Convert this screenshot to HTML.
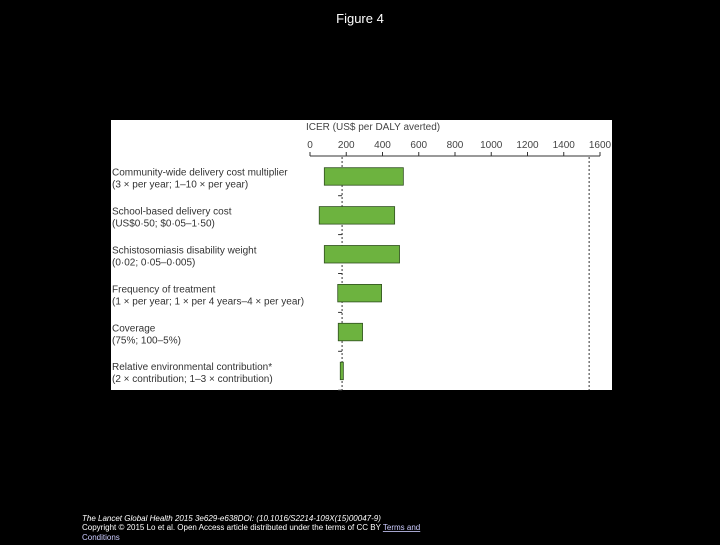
<!DOCTYPE html>
<html><head><meta charset="utf-8"><style>
body{margin:0;background:#000;width:720px;height:540px;overflow:hidden;font-family:"Liberation Sans",sans-serif;}
</style></head><body>
<svg width="720" height="540" xmlns="http://www.w3.org/2000/svg">
<text x="360" y="23" fill="#fff" font-size="13" text-anchor="middle">Figure 4</text>
<rect x="111" y="120" width="501" height="270" fill="#fff"/>
<g id="chart"></g>
<text x="82" y="521" fill="#fff" font-size="8" font-style="italic">The Lancet Global Health 2015 3e629-e638DOI: (10.1016/S2214-109X(15)00047-9)</text>
<text x="82" y="530" fill="#fff" font-size="8">Copyright © 2015 Lo et al. Open Access article distributed under the terms of CC BY <tspan fill="#ccf" text-decoration="underline">Terms and</tspan></text>
<text x="82" y="540" fill="#ccf" font-size="8" text-decoration="underline">Conditions</text>
</svg>
<script>
const categories=["Community-wide delivery cost multiplier","School-based delivery cost","Schistosomiasis disability weight","Frequency of treatment","Coverage","Relative environmental contribution*"];
const subLabels=["(3 × per year; 1–10 × per year)","(US$0·50; $0·05–1·50)","(0·02; 0·05–0·005)","(1 × per year; 1 × per 4 years–4 × per year)","(75%; 100–5%)","(2 × contribution; 1–3 × contribution)"];
const lowValues=[79,51,79,153,156,167];
const highValues=[515,467,494,395,290,184];
const ticks=[0,200,400,600,800,1000,1200,1400,1600];
const baseValue=177;
const thresholdValue=1540;
const NS="http://www.w3.org/2000/svg";
const g=document.getElementById('chart');
const X=v=>310+v*290/1600;
const Y=i=>167.7+i*38.9;
function mk(t,a){const e=document.createElementNS(NS,t);for(const k in a)e.setAttribute(k,a[k]);g.appendChild(e);return e;}
let e=mk('text',{x:306,y:130,'font-size':10,fill:'#444'});e.textContent="ICER (US$ per DALY averted)";


e=mk('line',{x1:X(0),x2:X(1600),y1:156,y2:156,stroke:'#333','stroke-width':1});


ticks.forEach(t=>{
 let l=mk('line',{x1:X(t),x2:X(t),y1:152,y2:156,stroke:'#333'});
 
 
 let s=mk('text',{x:X(t),y:148,'font-size':10,fill:'#444','text-anchor':'middle'});s.textContent=t;
 
 
});
[baseValue,thresholdValue].forEach((v,i)=>{
 let l=mk('line',{x1:X(v),x2:X(v),y1:157,y2:390,stroke:'#333','stroke-dasharray':'2,2'});
 
 
});
categories.forEach((c,i)=>{
 const y=Y(i);
 let r=mk('rect',{x:X(lowValues[i]),y:y,width:X(highValues[i])-X(lowValues[i]),height:17.5,fill:'#6db33f',stroke:'#2f4f1f','stroke-width':0.8});
 
 
 let t=mk('text',{x:112,y:y+8,'font-size':10,fill:'#333'});t.textContent=c;
 
 
 let s=mk('text',{x:112,y:y+20,'font-size':10,fill:'#333'});s.textContent=subLabels[i];
 
 
 let m=mk('line',{x1:X(baseValue)-4,x2:X(baseValue),y1:y+28,y2:y+28,stroke:'#333'});
 
 
});
</script>
</body></html>
